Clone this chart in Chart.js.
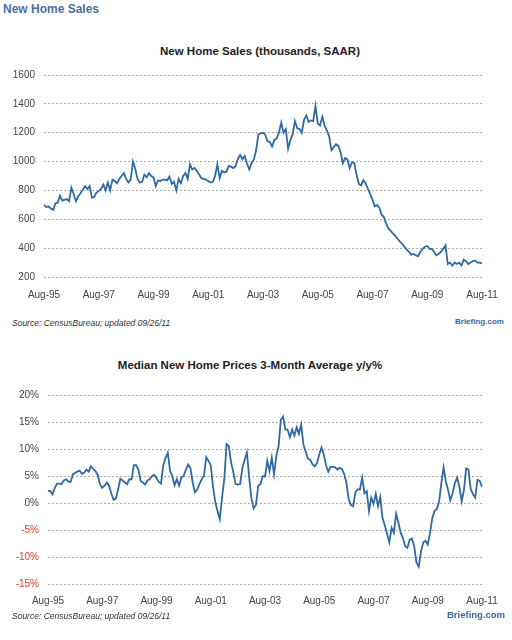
<!DOCTYPE html>
<html>
<head>
<meta charset="utf-8">
<script src="https://cdn.jsdelivr.net/npm/chart.js@4.4.0/dist/chart.umd.min.js"></script>
<style>
  body { margin: 0; background: #fff; width: 512px; height: 640px; position: relative; overflow: hidden; font-family: "Liberation Sans", Arial, sans-serif; }
  .abs { position: absolute; white-space: nowrap; }
  .header { left: 3px; top: 2px; font-size: 12px; font-weight: bold; color: #4a70a3; }
  .title { font-size: 11.5px; font-weight: bold; color: #222; transform: translateX(-50%); }
  .source { left: 12px; font-size: 8.5px; font-style: italic; color: #333; }
  .brand { font-weight: bold; color: #3b679c; }
  .box { position: absolute; left: 0; }
</style>
</head>
<body>
<div class="abs header">New Home Sales</div>
<div class="abs title" style="left:260px; top:45px;">New Home Sales (thousands, SAAR)</div>
<div class="box" style="top:60px; width:512px; height:250px;"><canvas id="salesChart" width="512" height="250"></canvas></div>
<div class="abs source" style="top:318px;">Source: CensusBureau; updated 09/26/11</div>
<div class="abs brand" style="left:455px; top:317px; font-size:8px;">Briefing.com</div>

<div class="abs title" style="left:250px; top:359px;">Median New Home Prices 3-Month Average y/y%</div>
<div class="box" style="top:380px; width:512px; height:240px;"><canvas id="priceChart" width="512" height="240"></canvas></div>
<div class="abs source" style="top:611px;">Source: CensusBureau; updated 09/26/11</div>
<div class="abs brand" style="left:447px; top:609px; font-size:9.5px;">Briefing.com</div>

<script>
// meses mostrados: Aug-95 .. Aug-11
const monthNames = ["Jan","Feb","Mar","Apr","May","Jun","Jul","Aug","Sep","Oct","Nov","Dec"];
const startYear = 1995, startMonth = 7, monthCount = 193;
const tickLabels = ["Aug-95","Aug-97","Aug-99","Aug-01","Aug-03","Aug-05","Aug-07","Aug-09","Aug-11"];

// New Home Sales (thousands, SAAR)
const salesValues = [
  700,685,690,675,665,710,715,765,730,735,740,725,
  820,775,725,760,780,805,830,810,830,750,755,785,
  795,810,840,800,855,800,875,865,850,880,900,920,
  880,855,875,1000,950,880,855,860,910,890,920,900,
  890,830,870,865,875,875,870,895,845,860,800,880,
  850,900,920,880,980,945,955,935,910,885,880,875,
  865,855,860,900,980,885,935,925,930,970,965,955,
  970,1020,1045,1015,1040,985,945,990,1015,1080,1190,1195,
  1200,1185,1140,1135,1105,1150,1160,1200,1270,1200,1225,1090,
  1150,1190,1280,1230,1225,1200,1290,1320,1275,1285,1280,1385,
  1265,1250,1310,1250,1215,1175,1080,1100,1120,1110,1065,990,
  1025,1015,955,995,990,910,845,835,870,850,810,775,
  735,690,700,680,630,615,570,535,520,500,485,465,
  445,430,410,390,375,355,360,350,345,375,395,410,
  415,395,395,375,350,360,375,395,420,290,300,280,
  300,290,300,280,320,310,290,300,310,315,300,300,
  295
];

// Median New Home Prices 3-Month Average y/y %
const priceValues = [
  2.3,2.2,1.6,2.8,3.6,3.6,3.5,4.2,4.4,4.0,3.9,5.3,
  5.6,5.8,6.0,5.4,5.6,6.2,5.8,6.8,6.3,5.9,5.2,3.5,
  2.8,3.2,3.8,3.2,1.8,0.6,0.8,2.5,4.5,4.2,3.8,3.5,
  4.4,4.4,7.0,7.0,6.2,4.1,3.8,3.4,4.2,4.4,5.0,5.2,
  4.6,3.9,3.6,7.0,8.3,9.3,6.0,4.9,3.3,4.4,3.2,4.7,
  5.0,6.2,7.1,6.5,3.8,2.0,2.5,3.5,4.4,5.0,8.5,7.8,
  7.0,3.0,0.2,-1.5,-3.0,1.0,4.5,10.9,10.5,7.5,5.7,3.5,
  3.4,3.5,6.5,8.0,9.3,4.8,0.8,-1.0,-0.3,3.2,3.5,5.0,
  4.9,7.8,5.9,8.4,5.3,8.7,10.5,15.4,16.0,13.6,13.6,12.2,
  13.6,12.5,14.0,12.8,14.5,10.8,9.5,8.2,8.0,7.2,6.8,7.4,
  9.0,10.3,9.0,7.0,5.8,6.7,6.7,6.6,6.2,6.5,6.3,5.4,
  3.8,0.8,-0.4,-0.6,2.0,2.5,2.5,4.7,1.8,2.2,-1.5,1.0,
  -0.2,1.7,-0.6,1.1,-2.8,-4.1,-5.7,-7.3,-4.6,-5.5,-2.0,-3.6,
  -5.5,-6.5,-8.0,-8.3,-6.8,-6.6,-8.0,-11.0,-11.8,-9.0,-7.3,-7.0,
  -7.7,-5.6,-2.8,-1.5,-1.1,0.2,3.6,6.6,4.0,2.4,0.5,1.8,
  3.7,4.7,3.0,0.3,2.4,6.4,6.2,2.6,1.6,1.0,4.3,4.1,
  3.0
];

const months = [];
for (let i = 0; i < monthCount; i++) {
  const mIdx = (startMonth + i) % 12;
  const yr = startYear + Math.floor((startMonth + i) / 12);
  months.push(monthNames[mIdx] + "-" + String(yr).slice(2));
}

const lineColor = "#2f6aa6";
const gridColor = "#ababab";
const tickFont = { family: "'Liberation Sans', Arial, sans-serif", size: 10 };

function xAxis(height, pad) {
  return {
    type: "category",
    offset: false,
    grid: { display: false, drawTicks: false },
    border: { display: false },
    ticks: {
      autoSkip: false,
      maxRotation: 0,
      minRotation: 0,
      padding: pad,
      color: "#444",
      font: tickFont,
      callback: function (val) {
        const lbl = this.getLabelForValue(val);
        return tickLabels.includes(lbl) ? lbl : "";
      }
    },
    afterFit: (scale) => { scale.height = height; }
  };
}

function yAxis(min, max, step, width, fmt, colorFn) {
  return {
    min: min,
    max: max,
    grid: { color: gridColor, lineWidth: 1, drawTicks: false },
    border: { display: false, dash: [2, 2] },
    ticks: {
      stepSize: step,
      padding: 9,
      font: tickFont,
      color: colorFn,
      callback: fmt
    },
    afterFit: (scale) => { scale.width = width; }
  };
}

function lineDataset(values) {
  return {
    data: values,
    borderColor: lineColor,
    borderWidth: 1.8,
    pointRadius: 0,
    tension: 0,
    fill: false
  };
}

new Chart(document.getElementById("salesChart"), {
  type: "line",
  data: { labels: months, datasets: [lineDataset(salesValues)] },
  options: {
    responsive: false,
    animation: false,
    layout: { padding: { top: 8, right: 30, left: 0, bottom: 0 } },
    plugins: { legend: { display: false }, tooltip: { enabled: false } },
    scales: {
      x: xAxis(33, 12),
      y: yAxis(200, 1600, 200, 44, (v) => v, "#444")
    }
  }
});

new Chart(document.getElementById("priceChart"), {
  type: "line",
  data: { labels: months, datasets: [lineDataset(priceValues)] },
  options: {
    responsive: false,
    animation: false,
    layout: { padding: { top: 13, right: 30, left: 0, bottom: 0 } },
    plugins: { legend: { display: false }, tooltip: { enabled: false } },
    scales: {
      x: xAxis(36, 11),
      y: yAxis(-15, 20, 5, 48, (v) => v + "%", (ctx) => ctx.tick.value < 0 ? "#e8322e" : "#444")
    }
  }
});
</script>
</body>
</html>
